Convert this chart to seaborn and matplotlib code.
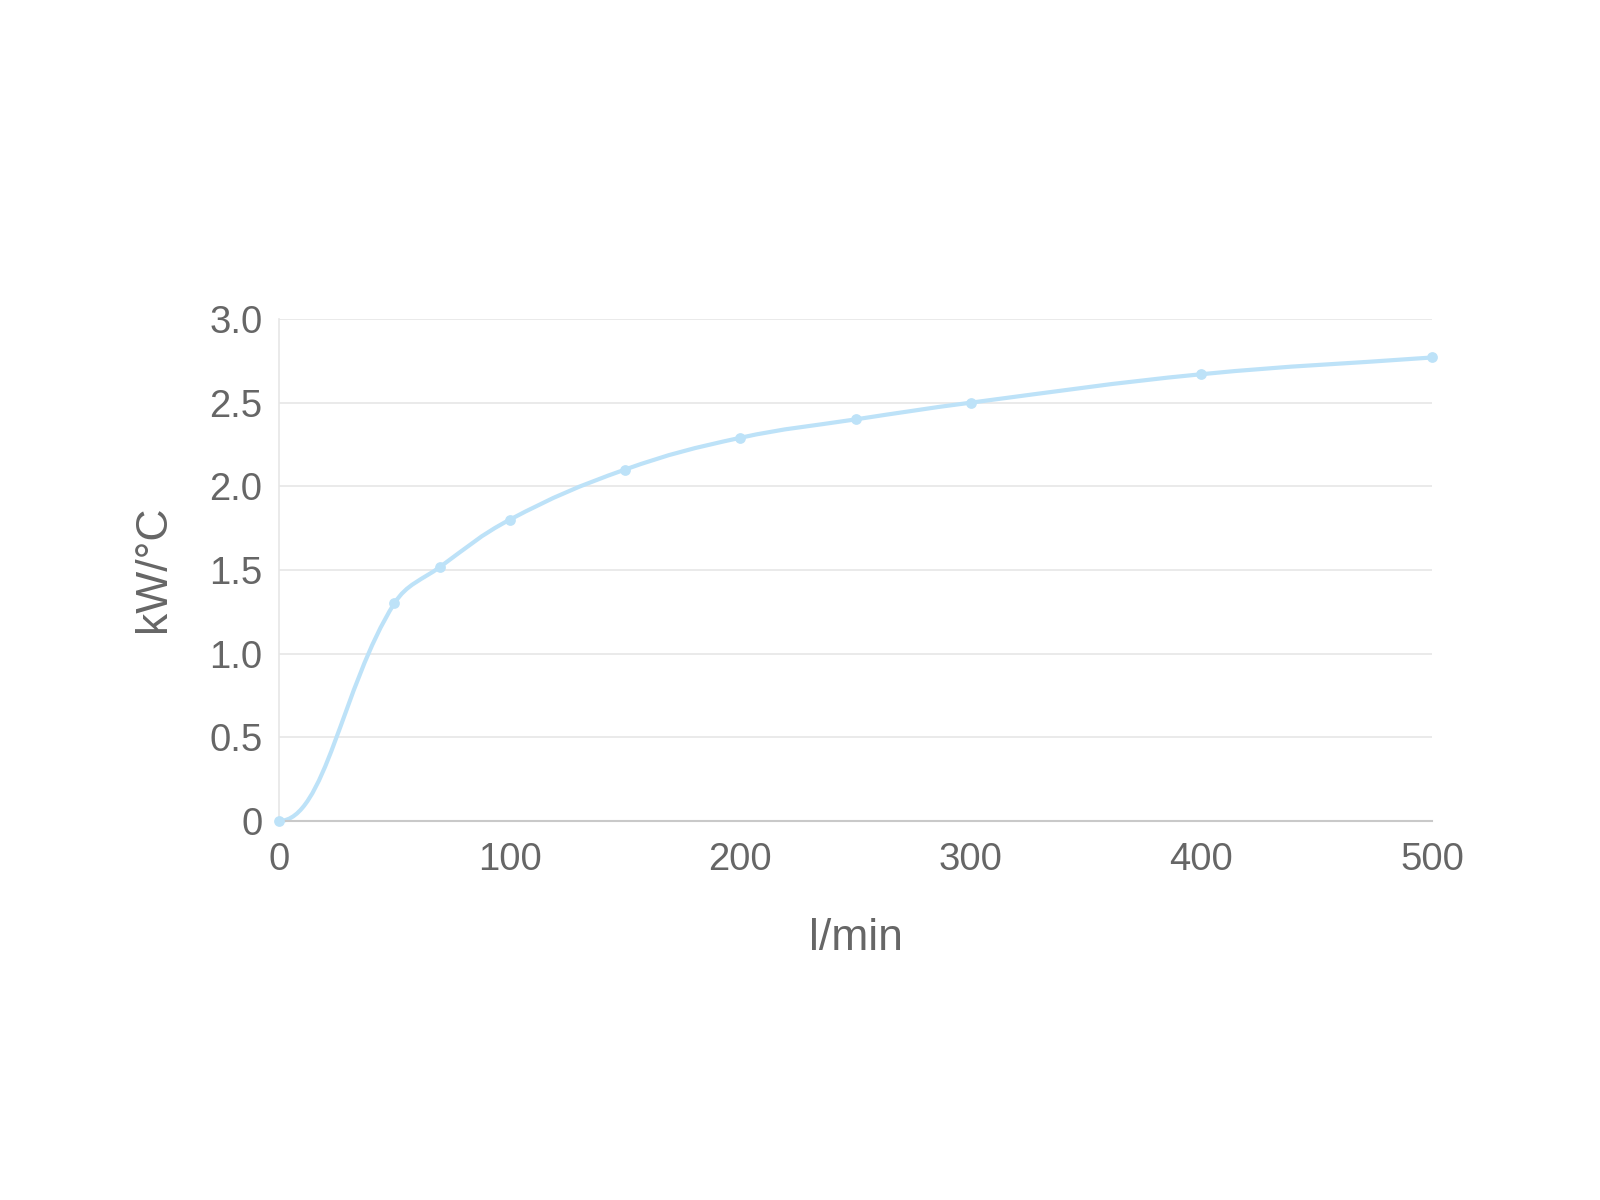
import numpy as np
import pandas as pd
import matplotlib
matplotlib.use("Agg")
import matplotlib.pyplot as plt
import seaborn as sns
from matplotlib.path import Path
from matplotlib.patches import PathPatch

# ---- data ----
flow = [0, 50, 70, 100, 150, 200, 250, 300, 400, 500]
kw_per_c = [0, 1.3, 1.52, 1.8, 2.1, 2.29, 2.4, 2.5, 2.67, 2.77]
x_ticks = [0, 100, 200, 300, 400, 500]
x_tick_labels = ["0", "100", "200", "300", "400", "500"]
y_ticks = [0, 0.5, 1.0, 1.5, 2.0, 2.5, 3.0]
y_tick_labels = ["0", "0.5", "1.0", "1.5", "2.0", "2.5", "3.0"]
x_label = "l/min"
y_label = "kW/°C"

line_color = "#bde2f8"
text_color = "#666666"
grid_color = "#e6e6e6"

sns.set_theme(style="white")
plt.rcParams['font.family'] = ['Liberation Sans', 'DejaVu Sans']

fig = plt.figure(figsize=(16, 12), dpi=100)
ax = fig.add_axes([279 / 1600, 1 - 821 / 1200, (1432 - 279) / 1600, (821 - 319) / 1200])
ax.set_xlim(0, 500)
ax.set_ylim(0, 3)

df = pd.DataFrame({"flow": flow, "kw": kw_per_c})

# grid / spines
ax.set_yticks(y_ticks)
ax.set_yticklabels(y_tick_labels)
ax.set_xticks(x_ticks)
ax.set_xticklabels(x_tick_labels)
ax.yaxis.grid(True, color=grid_color, linewidth=1.2)
ax.xaxis.grid(False)
ax.set_axisbelow(True)
for s in ["top", "right"]:
    ax.spines[s].set_visible(False)
ax.spines["left"].set_color(grid_color)
ax.spines["left"].set_linewidth(1.2)
ax.spines["bottom"].set_color("#c9c9c9")
ax.spines["bottom"].set_linewidth(1.5)
ax.tick_params(axis="y", length=10, width=1.2, color=grid_color, pad=2,
               labelsize=27.5, labelcolor=text_color)
ax.tick_params(axis="x", length=0, pad=15, labelsize=27.5, labelcolor=text_color)

# smooth bezier through the data points (Chart.js style tension 0.4)
pts = ax.transData.transform(np.column_stack([flow, kw_per_c]))
tension = 0.4
n = len(pts)
cp_prev, cp_next = [], []
for i in range(n):
    cur = pts[i]
    prv = pts[i - 1] if i > 0 else cur
    nxt = pts[i + 1] if i < n - 1 else cur
    d01 = np.hypot(*(cur - prv))
    d12 = np.hypot(*(nxt - cur))
    tot = d01 + d12
    s01, s12 = d01 / tot, d12 / tot
    cpp = cur - tension * s01 * (nxt - prv)
    cpn = cur + tension * s12 * (nxt - prv)
    if i == 0:
        cpn = np.array([cur[0] + tension * (nxt[0] - cur[0]), cur[1]])
    cp_prev.append(cpp)
    cp_next.append(cpn)

verts = [pts[0]]
codes = [Path.MOVETO]
for i in range(1, n):
    verts += [cp_next[i - 1], cp_prev[i], pts[i]]
    codes += [Path.CURVE4] * 3
verts = ax.transData.inverted().transform(np.array(verts))
patch = PathPatch(Path(verts, codes), facecolor="none", edgecolor=line_color,
                  linewidth=3.0, zorder=2, clip_on=False, capstyle="round")
ax.add_patch(patch)

sns.scatterplot(data=df, x="flow", y="kw", ax=ax, s=60, color=line_color,
                edgecolor=line_color, linewidth=0, zorder=3, clip_on=False)

ax.set_xlabel(x_label, fontsize=32, color=text_color)
ax.set_ylabel(y_label, fontsize=32, color=text_color)
ax.xaxis.label.set_va("center")
ax.yaxis.label.set_va("center")
ax.xaxis.set_label_coords(0.5, (821 - 938) / 502)
ax.yaxis.set_label_coords((153 - 279) / 1153, (821 - 569) / 502)

fig.savefig("out.png", dpi=100, facecolor="white")
